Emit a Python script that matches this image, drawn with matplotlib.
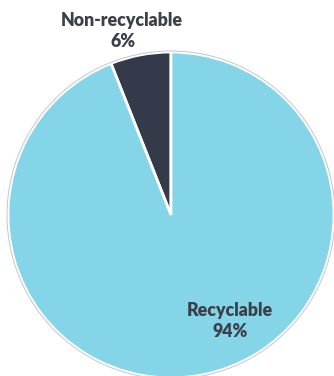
import matplotlib.pyplot as plt
from matplotlib.patches import Circle

labels = ["Non-recyclable", "Recyclable"]
shares = [6, 94]
colors = ["#343a4a", "#84d5e8"]

fig = plt.figure(figsize=(3.34, 3.76), dpi=100)
ax = fig.add_axes([0, 0, 1, 1])

# pie, starting at 12 o'clock and going counter-clockwise
ax.pie(shares, colors=colors, startangle=90, counterclock=True,
       radius=1, center=(0, 0),
       wedgeprops=dict(edgecolor="white", linewidth=2))
ax.add_patch(Circle((0, 0), 1.006, fill=False, edgecolor="#c4c7ca", linewidth=0.7))

txt = dict(ha="center", va="center", color="#3a3f4a", fontweight="heavy",
           family=["Lato", "DejaVu Sans"], fontsize=12.8)
ax.text(-0.305, 1.196, labels[0], **txt)
ax.text(-0.295, 1.062, f"{shares[0]}%", **txt)
ax.text(0.362, -0.589, labels[1], **txt)
ax.text(0.362, -0.718, f"{shares[1]}%", **txt)

ax.set_xlim(-1.049, 1.0)
ax.set_ylim(-0.988, 1.319)
ax.set_aspect("auto")
ax.axis("off")

fig.savefig("out.png", dpi=100, facecolor="white")
